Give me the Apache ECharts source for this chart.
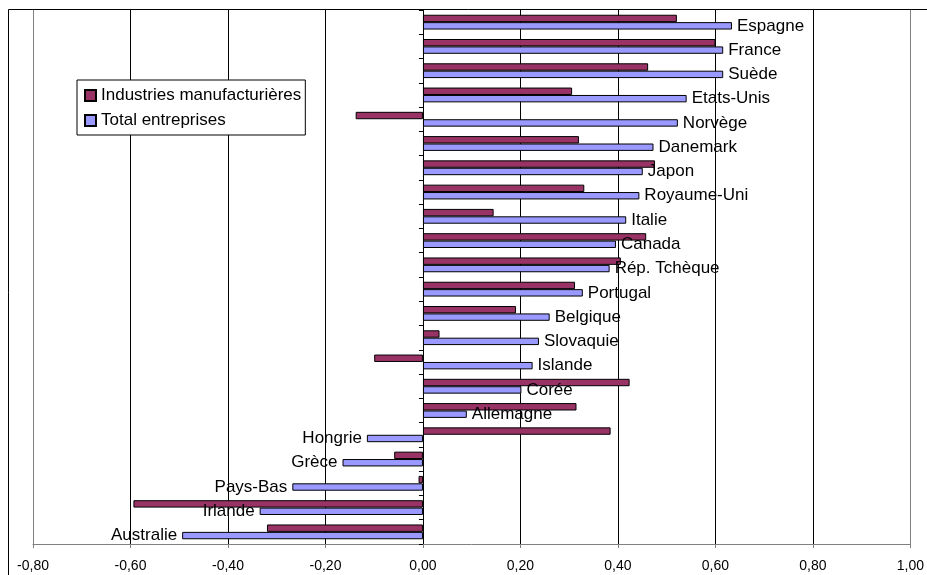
<!DOCTYPE html>
<html>
<head>
<meta charset="utf-8">
<script src="https://cdn.jsdelivr.net/npm/echarts@6/dist/echarts.min.js"></script>
<style>html,body{margin:0;padding:0;background:#fff}#c{width:927px;height:575px}</style>
</head>
<body>
<div id="c"></div>
<script>
var categories = ['Espagne','France','Suède','Etats-Unis','Norvège','Danemark','Japon','Royaume-Uni','Italie','Canada','Rép. Tchèque','Portugal','Belgique','Slovaquie','Islande','Corée','Allemagne','Hongrie','Grèce','Pays-Bas','Irlande','Australie'];
var manufValues = [0.521,0.600,0.462,0.306,-0.138,0.320,0.476,0.331,0.145,0.458,0.406,0.312,0.191,0.034,-0.100,0.424,0.315,0.385,-0.059,-0.009,-0.594,-0.320];
var totalValues = [0.634,0.616,0.616,0.541,0.523,0.473,0.451,0.444,0.417,0.396,0.383,0.328,0.260,0.238,0.225,0.202,0.090,-0.115,-0.165,-0.268,-0.335,-0.494];
var seriesNames = ['Industries manufacturières','Total entreprises'];
var xTicks = {min:-0.8, max:1.0, interval:0.2};

var font = 'Liberation Sans, Arial, sans-serif';
var chart = echarts.init(document.getElementById('c'));
var totalData = totalValues.map(function(v){
  return {value:v, label:{position: v < 0 ? 'left' : 'right'}};
});
chart.setOption({
  animation:false,
  backgroundColor:'#fff',
  textStyle:{fontFamily:font},
  graphic:[{type:'rect', shape:{x:8.5,y:9.5,width:1000,height:1000}, style:{fill:'none',stroke:'#000',lineWidth:1}, z:-1}],
  grid:{left:33, right:16, top:10, bottom:31, containLabel:false},
  legend:{
    orient:'vertical', left:77, top:80,
    backgroundColor:'#fff', borderColor:'#000', borderWidth:1,
    padding:[7,4,6,7], itemGap:8, itemWidth:11, itemHeight:11,
    icon:'rect',
    textStyle:{fontFamily:font, fontSize:17, color:'#000'},
    data:seriesNames
  },
  xAxis:{
    type:'value', min:xTicks.min, max:xTicks.max, interval:xTicks.interval,
    axisLine:{show:true, onZero:false, lineStyle:{color:'#808080'}},
    axisTick:{show:true, length:4, lineStyle:{color:'#808080'}},
    axisLabel:{fontSize:14, color:'#000', margin:15, fontFamily:font,
      formatter:function(v){return v.toFixed(2).replace('.',',');}},
    splitLine:{show:true, lineStyle:{color:['#808080','#000','#000','#000','#000','#000','#000','#000','#000','#808080'], width:1}}
  },
  yAxis:{
    type:'category', data:categories, inverse:true,
    axisLine:{show:true, onZero:true, lineStyle:{color:'#000'}},
    axisTick:{show:true, length:4, lineStyle:{color:'#000'}},
    axisLabel:{show:false}
  },
  series:[
    {name:seriesNames[0], type:'bar', data:manufValues, barWidth:7.4, barGap:'0%',
     itemStyle:{color:'#993366', borderColor:'#000', borderWidth:1}},
    {name:seriesNames[1], type:'bar', data:totalData, barWidth:7.4, barGap:'0%',
     itemStyle:{color:'#9999FF', borderColor:'#000', borderWidth:1},
     label:{show:true, formatter:'{b}', distance:5, fontSize:17, color:'#000', fontFamily:font}}
  ]
});
</script>
</body>
</html>
